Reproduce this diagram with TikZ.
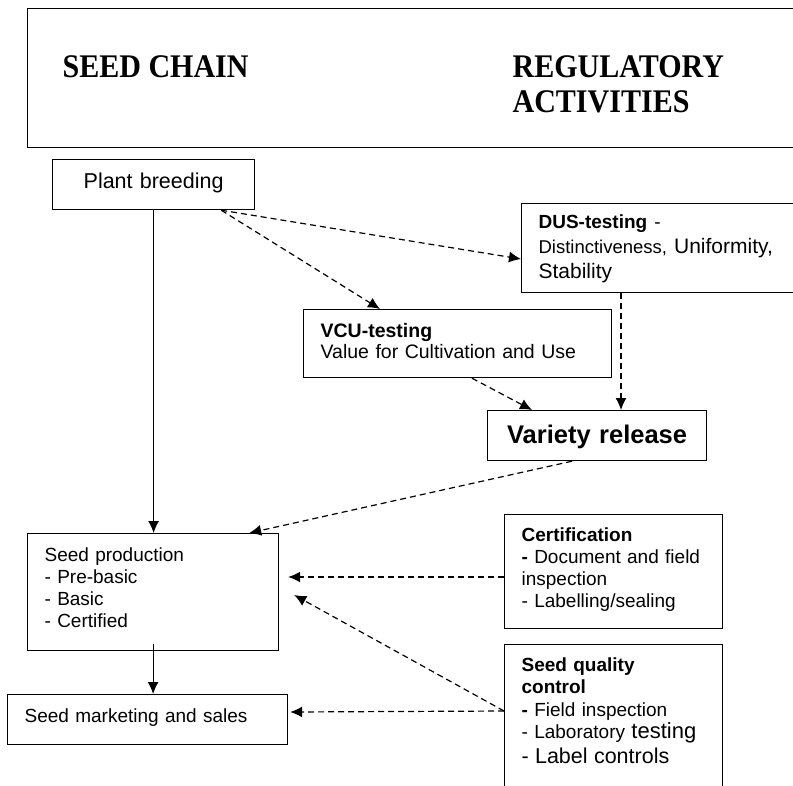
\documentclass[tikz,border=0pt]{standalone}
\usepackage{fontspec}
\setmainfont{Liberation Sans}
\newfontfamily\headfont[FakeStretch=0.91]{Liberation Serif}
\usetikzlibrary{calc,arrows.meta}

\newcommand{\padtop}[1]{\rule{0pt}{#1pt}}
\newcommand{\padbot}[1]{\rule[-#1pt]{0pt}{#1pt}}

\begin{document}
\begin{tikzpicture}[x=1pt,y=-1pt,>={Latex[length=12pt,width=11pt]},line width=1.2pt,font=\fontsize{19}{22}\selectfont]

    \tikzstyle{box}=[draw=black,anchor=north west,align=left,inner xsep=17pt,inner ysep=0pt]
    \tikzstyle{title}=[anchor=base west,inner sep=0pt,font=\headfont\bfseries\fontsize{33}{35}\selectfont]
    \tikzstyle{flow}=[->]
    \tikzstyle{check}=[->,dash pattern=on 6pt off 4pt]

    \useasboundingbox (0,0) rectangle (793,785);

    % heading
    \node[draw=black,anchor=north west,inner sep=0pt,minimum width=790pt,minimum height=139pt] (hdr) at (27,8) {};
    \node[title] (chain) at (62,77)  {SEED CHAIN};
    \node[title] (reg)   at (512,77) {REGULATORY};
    \node[title] (act)   at (512,112) {ACTIVITIES};

    % seed chain
    \node[box,align=center,text width=168pt,font=\fontsize{21.5}{22}\selectfont] (pb) at (52,159)
        {\padtop{29}Plant breeding\padbot{21}};
    \node[box,text width=217pt] (sp) at (27,533)
        {\padtop{28}Seed production\\- Pre-basic\\- Basic\\- Certified\padbot{23}};
    \node[box,text width=246pt] (mk) at (7,694)
        {\padtop{28}Seed marketing and sales\padbot{22}};

    % regulatory activities
    \node[box,text width=255pt,font=\fontsize{21}{25}\selectfont] (dus) at (521,203)
        {\padtop{25}{\fontsize{19}{25}\selectfont\textbf{DUS-testing} -}\\{\fontsize{18.5}{25}\selectfont Distinctiveness,} Uniformity,\\Stability\padbot{14}};
    \node[box,text width=274pt,font=\fontsize{19.5}{21}\selectfont] (vcu) at (303,309)
        {\padtop{28}\textbf{VCU-testing}\\Value for Cultivation and Use\padbot{19}};
    \node[box,align=center,inner xsep=10pt,text width=199pt,font=\bfseries\fontsize{25.5}{28}\selectfont] (vr) at (487,410)
        {\padtop{33}Variety release\padbot{17}};
    \node[box,text width=184pt] (cert) at (504,514)
        {\padtop{27}\textbf{Certification}\\\textbf{-} Document and field\\inspection\\- Labelling/sealing\padbot{21}};
    \node[box,text width=184pt] (sqc) at (504,644)
        {\padtop{27}\textbf{Seed quality}\\\textbf{control}\\[1pt]\textbf{-} Field inspection\\- Laboratory {\fontsize{22}{22}\selectfont testing}\\[3pt]{\fontsize{21.5}{22}\selectfont - Label controls}\padbot{40}};

    \path
    (pb.south)                      edge[flow]      (pb.south |- sp.north)
    ($(pb.south east)+(-34,0)$)     edge[check]     ($(dus.north west)+(0,56)$)
                                    edge[check]     ($(vcu.north west)+(77,0)$)
    ($(vcu.south west)+(169,0)$)    edge[check]     ($(vr.north west)+(45,0)$)
    ($(dus.south west)+(100,0)$)    edge[check]     ($(vr.north west)+(134,0)$)
    ($(vr.south west)+(85,0)$)      edge[check]     ($(sp.north east)+(-30,0)$)
    ($(cert.north west)+(0,63)$)    edge[check]     ($(sp.north east)+(9,44)$)
    ($(sqc.north west)+(0,67)$)     edge[check]     ($(sp.north east)+(15,62)$)
                                    edge[check]     ($(mk.north east)+(2,18)$)
    ($(sp.south)+(0,-7)$)           edge[flow]      (sp.south |- mk.north);

\end{tikzpicture}
\end{document}
